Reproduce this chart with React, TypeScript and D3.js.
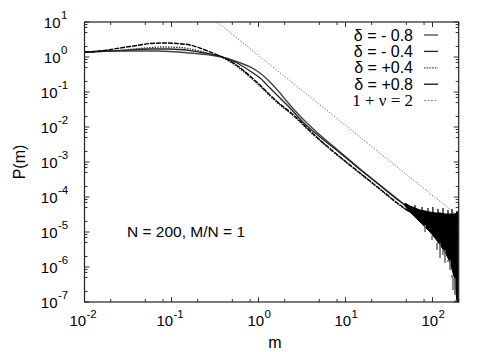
import React from "react";
import * as d3 from "d3";

// ---------- data ----------
const c1M = [0.01, 0.0151, 0.0256, 0.0435, 0.0566, 0.0841, 0.1156, 0.163, 0.243, 0.38, 0.537, 0.798, 1.04, 1.355, 1.765, 2.3, 3.0, 3.42, 5.09, 8.65, 14.7, 24.9, 42.3, 55];
const c1P = [1.39, 1.48, 1.81, 2.2, 2.43, 2.51, 2.43, 2.2, 1.585, 1.0, 0.63, 0.286, 0.158, 0.082, 0.0454, 0.0268, 0.0148, 0.0107, 4.25e-3, 1.39e-3, 4.85e-4, 1.69e-4, 5.9e-5, 3.7e-5];

const c2M = [0.01, 0.0196, 0.0435, 0.0798, 0.125, 0.186, 0.277, 0.38, 0.537, 0.798, 1.04, 1.355, 1.765, 2.3, 3.0, 3.42, 5.09, 8.65, 14.7, 24.9, 42.3, 55];
const c2P = [1.39, 1.48, 1.75, 1.93, 1.87, 1.585, 1.22, 1.0, 0.59, 0.268, 0.148, 0.0769, 0.0425, 0.0251, 0.0139, 0.01, 4.11e-3, 1.35e-3, 4.69e-4, 1.64e-4, 5.7e-5, 3.7e-5];

const c3M = [0.01, 0.0256, 0.0566, 0.0961, 0.163, 0.243, 0.38, 0.537, 0.798, 1.04, 1.355, 1.765, 2.3, 3.0, 3.42, 5.09, 8.65, 14.7, 24.9, 42.3, 55];
const c3P = [1.39, 1.53, 1.69, 1.69, 1.53, 1.3, 1.0, 0.72, 0.4, 0.25, 0.13, 0.0674, 0.0349, 0.0169, 0.0122, 5.18e-3, 1.81e-3, 6.1e-4, 2.13e-4, 7.4e-5, 4.54e-5];

const c4M = [0.01, 0.0256, 0.068, 0.163, 0.277, 0.38, 0.537, 0.798, 1.04, 1.355, 1.765, 2.3, 3.0, 3.42, 5.09, 8.65, 14.7, 24.9, 42.3, 55];
const c4P = [1.39, 1.48, 1.48, 1.3, 1.14, 1.0, 0.77, 0.52, 0.35, 0.193, 0.0936, 0.0425, 0.0206, 0.0148, 5.9e-3, 1.93e-3, 6.3e-4, 2.2e-4, 7.7e-5, 4.54e-5];

// noisy tail envelope
const tailM = [48.3, 55.1, 62.9, 71.8, 82.0, 93.5, 107, 122, 139, 159, 181, 191, 196];
const tailHi = [6.7e-5, 5.5e-5, 4.85e-5, 4.25e-5, 4.0e-5, 3.7e-5, 3.5e-5, 3.5e-5, 3.27e-5, 3.27e-5, 3.27e-5, 3.7e-5, 3.7e-5];
const tailLo = [5.5e-5, 3.7e-5, 2.68e-5, 1.93e-5, 1.39e-5, 1.0e-5, 6.7e-6, 4.25e-6, 2.68e-6, 1.39e-6, 4.25e-7, 1e-7, 1e-7];

const spikeDownM = [82, 98.7, 112.7, 122, 132, 139, 150.7, 159, 167.6, 172, 181, 186.3];
const spikeDownP = [1.0e-5, 5.9e-6, 3.06e-6, 1.81e-6, 2.2e-6, 1.3e-6, 1.39e-6, 8.2e-7, 5.9e-7, 2.2e-7, 1.58e-7, 1e-7];
const spikeUpM = [62.9, 75.7, 88.7, 101, 115.6, 132, 150.7, 167.6, 191];
const spikeUpP = [5.9e-5, 5.2e-5, 4.85e-5, 5.2e-5, 4.54e-5, 4.85e-5, 4.25e-5, 4.54e-5, 4.0e-5];

// reference power law 1+nu = 2
const refM = [0.333, 200];
const refP = [10, 2.78e-5];

const xTickExps = [-2, -1, 0, 1, 2];
const yTickExps = [1, 0, -1, -2, -3, -4, -5, -6, -7];
const xMinorMult = [2, 5, 8];
const yMinorMult = [2, 5, 7, 8.5];

const legendLabels = ["δ = - 0.8", "δ = - 0.4", "δ = +0.4", "δ = +0.8", "1 + ν = 2"];
const annotation = "N = 200, M/N = 1";
const xTitle = "m";
const yTitle = "P(m)";

// ---------- layout ----------
const W = 488;
const H = 352;
const L = 84.5, R = 458.7, T = 22, B = 302;

const x = d3.scaleLog().domain([0.01, 200]).range([L, R]);
const y = d3.scaleLog().domain([1e-7, 10]).range([B, T]);

const lineGen = d3
  .line<[number, number]>()
  .x((d) => x(d[0]))
  .y((d) => y(d[1]))
  .curve(d3.curveMonotoneX);

const zip = (a: number[], b: number[]) => a.map((v, i) => [v, b[i]] as [number, number]);

const series = [
  { m: c4M, p: c4P, stroke: "#444", dash: "none", w: 1.4 },
  { m: c3M, p: c3P, stroke: "#222", dash: "none", w: 1.3 },
  { m: c2M, p: c2P, stroke: "#333", dash: "1.5,1.2", w: 1.4 },
  { m: c1M, p: c1P, stroke: "#000", dash: "5,1", w: 1.4 },
];
const legendStyles = [
  { stroke: "#444", dash: "none", w: 1.3 },
  { stroke: "#222", dash: "none", w: 1.3 },
  { stroke: "#444", dash: "1.5,1.2", w: 1.3 },
  { stroke: "#111", dash: "none", w: 1.3 },
  { stroke: "#888", dash: "2,1.5", w: 1 },
];

const SANS = "'Liberation Sans', Arial, Helvetica, sans-serif";
const SERIF = "'Liberation Serif', 'Times New Roman', serif";

export default function App() {
  const area = d3
    .area<number>()
    .x((_, i) => x(tailM[i]))
    .y0((_, i) => y(tailLo[i]))
    .y1((_, i) => y(tailHi[i]))
    .curve(d3.curveLinear);

  const xMinor: number[] = [];
  for (let e = -2; e <= 2; e++) for (const k of xMinorMult) { const v = k * Math.pow(10, e); if (v <= 200) xMinor.push(v); }
  const yMinor: number[] = [];
  for (let e = -7; e <= 0; e++) for (const k of yMinorMult) yMinor.push(k * Math.pow(10, e));

  const tickColor = "#333";
  return (
    <svg width={W} height={H} style={{ position: "absolute", left: 0, top: 0, background: "#fff" }} fontFamily={SANS}>
      <defs>
        <clipPath id="plot">
          <rect x={L} y={T} width={R - L} height={B - T} />
        </clipPath>
      </defs>
      <rect x={0} y={0} width={W} height={H} fill="#fff" />

      {/* ticks */}
      <g stroke={tickColor} strokeWidth={1}>
        {xTickExps.map((e) => {
          const px = x(Math.pow(10, e));
          return (
            <g key={"xm" + e}>
              <line x1={px} x2={px} y1={B} y2={B - 5} />
              <line x1={px} x2={px} y1={T} y2={T + 5} />
            </g>
          );
        })}
        {xMinor.map((v, i) => {
          const px = x(v);
          return (
            <g key={"xn" + i}>
              <line x1={px} x2={px} y1={B} y2={B - 3} />
              <line x1={px} x2={px} y1={T} y2={T + 3} />
            </g>
          );
        })}
        {yTickExps.map((e) => {
          const py = y(Math.pow(10, e));
          return (
            <g key={"ym" + e}>
              <line x1={L} x2={L + 5} y1={py} y2={py} />
              <line x1={R} x2={R - 5} y1={py} y2={py} />
            </g>
          );
        })}
        {yMinor.map((v, i) => {
          const py = y(v);
          return (
            <g key={"yn" + i}>
              <line x1={L} x2={L + 3} y1={py} y2={py} />
              <line x1={R} x2={R - 3} y1={py} y2={py} />
            </g>
          );
        })}
      </g>

      {/* data */}
      <g clipPath="url(#plot)">
        <path
          d={lineGen(zip(refM, refP)) || ""}
          fill="none"
          stroke="#777"
          strokeWidth={0.9}
          strokeDasharray="1.5,1.5"
        />
        {series.map((s, i) => (
          <path
            key={i}
            d={lineGen(zip(s.m, s.p)) || ""}
            fill="none"
            stroke={s.stroke}
            strokeWidth={s.w}
            strokeDasharray={s.dash}
          />
        ))}
        <path d={area(tailM) || ""} fill="#000" stroke="#000" strokeWidth={1} />
        {spikeDownM.map((m, i) => {
          const px = x(m);
          const idx = d3.bisectLeft(tailM, m);
          const top = y(tailLo[Math.min(idx, tailLo.length - 1)]);
          return <line key={"sd" + i} x1={px} x2={px} y1={top - 2} y2={y(spikeDownP[i])} stroke="#666" strokeWidth={1.5} />;
        })}
        {spikeUpM.map((m, i) => {
          const px = x(m);
          const idx = d3.bisectLeft(tailM, m);
          const base = y(tailHi[Math.min(idx, tailHi.length - 1)]);
          return <line key={"su" + i} x1={px} x2={px} y1={base + 2} y2={y(spikeUpP[i])} stroke="#000" strokeWidth={1.2} />;
        })}
      </g>

      {/* frame */}
      <rect x={L} y={T} width={R - L} height={B - T} fill="none" stroke="#222" strokeWidth={1.2} />

      {/* y tick labels */}
      {yTickExps.map((e) => {
        const py = y(Math.pow(10, e));
        const neg = e < 0;
        const xEnd = neg ? 57.5 : 60.5;
        return (
          <g key={"yl" + e}>
            <text x={xEnd} y={py + 5.5} textAnchor="end" fontSize={15} fill="#000">10</text>
            <text x={xEnd + 0.5} y={py - 3} textAnchor="start" fontSize={11.5} fill="#000">{neg ? "-" + -e : String(e)}</text>
          </g>
        );
      })}

      {/* x tick labels */}
      {xTickExps.map((e) => {
        const px = x(Math.pow(10, e));
        const neg = e < 0;
        const start = neg ? px - 15 : px - 11;
        return (
          <g key={"xl" + e}>
            <text x={start} y={326} textAnchor="start" fontSize={15} fill="#000">10</text>
            <text x={start + 17} y={318} textAnchor="start" fontSize={11.5} fill="#000">{neg ? "-" + -e : String(e)}</text>
          </g>
        );
      })}

      {/* axis titles */}
      <text x={275} y={348} textAnchor="middle" fontSize={16} fill="#000">{xTitle}</text>
      <text transform={`translate(25,${(T + B) / 2}) rotate(-90)`} textAnchor="middle" fontSize={16} fill="#000">{yTitle}</text>

      {/* annotation */}
      <text x={127} y={237} fontSize={15.5} fill="#000">{annotation}</text>

      {/* legend */}
      {legendLabels.map((lab, i) => {
        const cy = 35 + i * 16.4;
        const st = legendStyles[i];
        return (
          <g key={"lg" + i}>
            <text x={413} y={cy + 5.5} textAnchor="end" fontSize={i === 4 ? 17 : 16} fontFamily={i === 4 ? SERIF : SANS} fill="#000">{lab}</text>
            <line x1={424} x2={438} y1={cy} y2={cy} stroke={st.stroke} strokeWidth={st.w} strokeDasharray={st.dash} />
          </g>
        );
      })}
    </svg>
  );
}
